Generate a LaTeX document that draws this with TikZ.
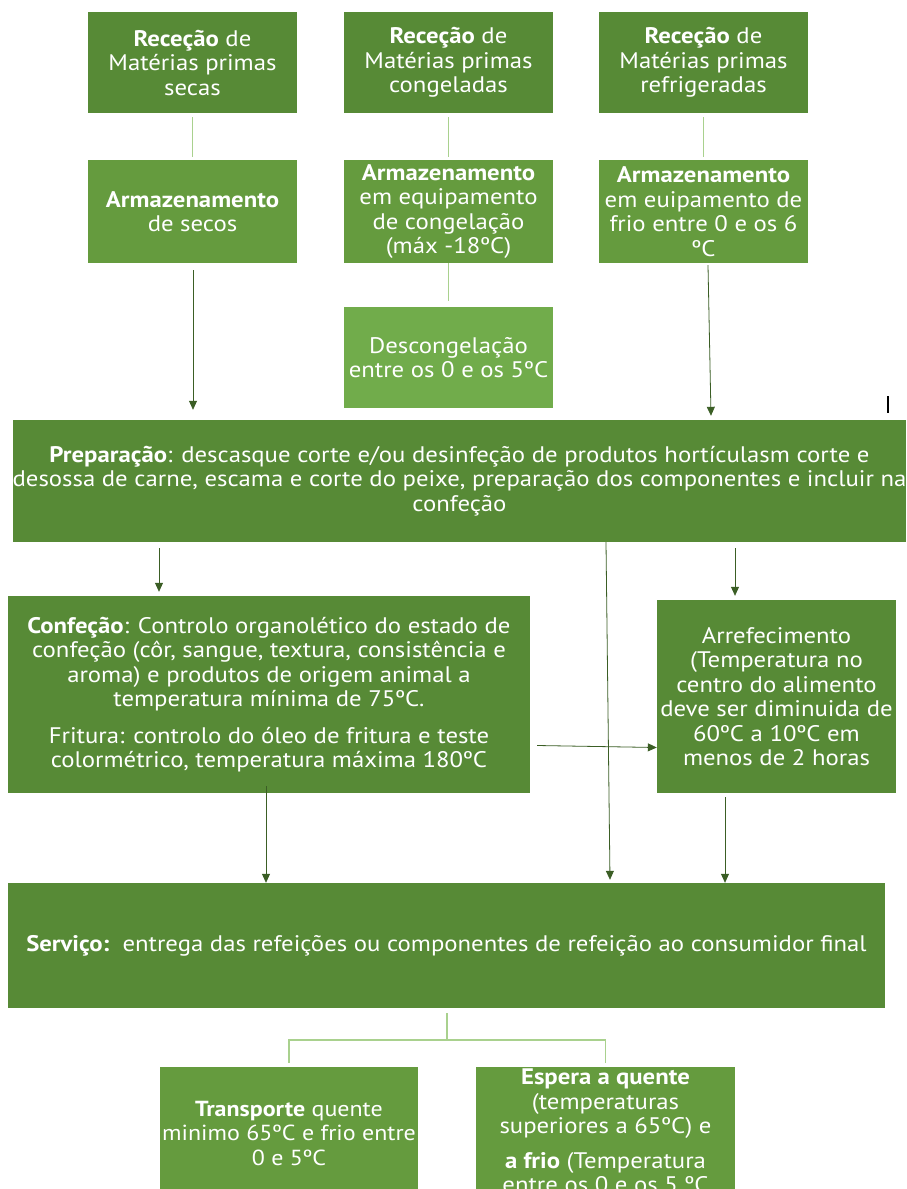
\documentclass[tikz,border=0pt]{standalone}
\usepackage{fontspec}
\setmainfont{PT Sans}[FakeStretch=1.1]
\usetikzlibrary{arrows.meta,calc}
\definecolor{gdark}{HTML}{578A36}
\definecolor{gmid}{HTML}{659B3E}
\definecolor{glight}{HTML}{71AC4B}
\definecolor{gline}{HTML}{A9D18E}
\definecolor{garrow}{HTML}{3B5E25}
\begin{document}
\begin{tikzpicture}[x=1pt,y=-1pt,
  font=\fontsize{22.5}{24.5}\selectfont,
  box/.style={rectangle, fill=#1, text=white, align=center, inner sep=0pt},
  light/.style={draw=gline, line width=1.5pt},
  arr/.style={draw=garrow, line width=0.8pt, -{Triangle[length=9pt,width=8pt]}}]
\clip (0,0) rectangle (907,1189);
% row 1
\node[box=gdark, minimum width=209, minimum height=101] (r1a) at (192.5,62.5) {\textbf{Receção} de\\Matérias primas\\secas};
\node[box=gdark, minimum width=209, minimum height=101] (r1b) at (448.5,62.5) {\textbf{Receção} de\\Matérias primas\\congeladas};
\node[box=gdark, minimum width=209, minimum height=101] (r1c) at (703.5,62.5) {\textbf{Receção} de\\Matérias primas\\refrigeradas};
% row 2
\node[box=gmid, minimum width=209, minimum height=103] (r2a) at (192.5,211.5) {\textbf{Armazenamento}\\de secos};
\node[box=gmid, minimum width=209, minimum height=103] (r2b) at (448.5,211.5) {\textbf{Armazenamento}\\em equipamento\\de congelação\\(máx -18ºC)};
\node[box=gmid, minimum width=209, minimum height=103] (r2c) at (703.5,211.5) {\textbf{Armazenamento}\\em euipamento de\\frio entre 0 e os 6\\ºC};
% descongelacao
\node[box=glight, minimum width=209, minimum height=101] (desc) at (448.5,357.5) {Descongelação\\entre os 0 e os 5ºC};
% preparacao
\node[box=gdark, minimum width=891, minimum height=122] (prep) at (459.5,481) {\textbf{Preparação}: descasque corte e/ou desinfeção de produtos hortículasm corte e\\desossa de carne, escama e corte do peixe, preparação dos componentes e incluir na\\confeção};
% confecao
\node[box=gdark, minimum width=522, minimum height=197] (conf) at (269,694.5) {\textbf{Confeção}: Controlo organolético do estado de\\confeção (côr, sangue, textura, consistência e\\aroma) e produtos de origem animal a\\temperatura mínima de 75ºC.\\[12pt]Fritura: controlo do óleo de fritura e teste\\colormétrico, temperatura máxima 180ºC};
% arrefecimento
\node[box=gdark, minimum width=239, minimum height=193] (arref) at (776.5,696.5) {Arrefecimento\\(Temperatura no\\centro do alimento\\deve ser diminuida de\\60ºC a 10ºC em\\menos de 2 horas};
% servico
\node[box=gdark, minimum width=877, minimum height=125] (serv) at (446.5,945.5) {\textbf{Serviço:}\ \ entrega das refeições ou componentes de refeição ao consumidor final};
% bottom
\node[box=gmid, minimum width=258, minimum height=132, font=\fontsize{21.8}{24.5}\selectfont] (trans) at (289,1133) {\textbf{Transporte} quente\\minimo 65ºC e frio entre\\0 e 5ºC};
\node[box=gmid, minimum width=259, minimum height=128] (esp) at (605.5,1131) {\textbf{Espera a quente}\\(temperaturas\\superiores a 65ºC) e\\[10pt]\textbf{a frio} (Temperatura\\entre os 0 e os 5 ºC};
% light connectors
\draw[light, shorten <=4pt, shorten >=3pt] (r1a.south) -- (r2a.north);
\draw[light, shorten <=4pt, shorten >=3pt] (r1b.south) -- (r2b.north);
\draw[light, shorten <=4pt, shorten >=3pt] (r1c.south) -- (r2c.north);
\draw[light, shorten >=6pt] (r2b.south) -- (desc.north);
\coordinate (j) at ($(serv.south)+(0.5,32)$);
\draw[light] ($(serv.south)+(0.5,5)$) -- (j);
\draw[light] ($(trans.north)+(0,-4)$) |- (j) -| ($(esp.north)+(0,-4)$);
% dark arrows
\draw[arr] ($(r2a.south)+(0.5,7)$) -- ($(prep.north)+(-266.5,-10)$);
\draw[arr] ($(r2c.south)+(4.5,2)$) -- ($(prep.north)+(251.5,-4)$);
\draw[arr] ($(prep.south)+(-300.5,6)$) -- ($(conf.north)+(-110,-4)$);
\draw[arr] ($(prep.south)+(275.5,6)$) -- ($(arref.north)+(-41.5,-4)$);
\draw[arr] ($(prep.south)+(146.5,0)$) -- ($(serv.north)+(163.5,-3)$);
\draw[arr] ($(conf.east)+(7,51)$) -- ($(arref.west)+(0,51)$);
\draw[arr] ($(conf.south)+(-3,-7)$) -- ($(serv.north)+(-180.5,0)$);
\draw[arr] ($(arref.south)+(-51.5,4)$) -- ($(serv.north)+(278.5,0)$);
% stray mark
\draw[black, line width=1.3pt] (888,396) -- (888,413);
\end{tikzpicture}
\end{document}
